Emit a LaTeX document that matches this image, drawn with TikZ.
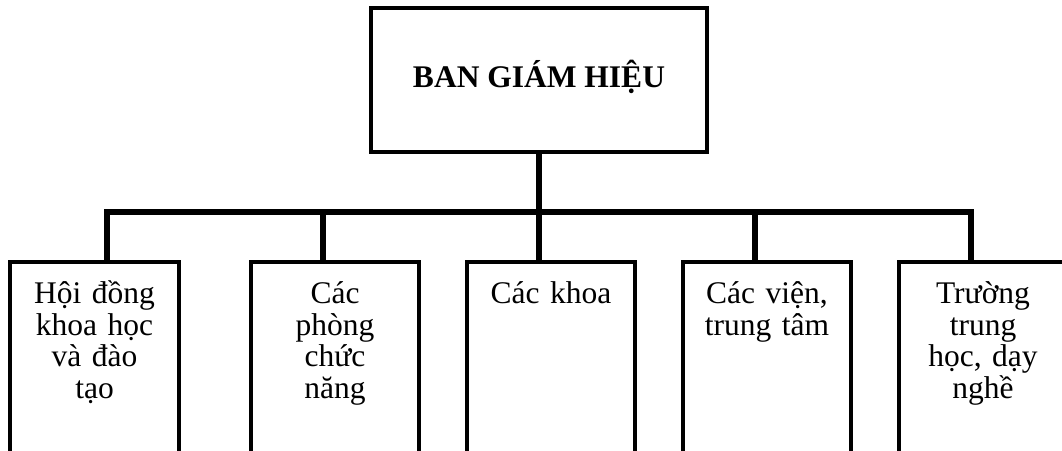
\documentclass[tikz,border=0pt]{standalone}
\usepackage{fontspec}
\setmainfont{Liberation Serif}
\begin{document}
\begin{tikzpicture}[x=1pt,y=-1pt,
  topbox/.style={draw,line width=3.5pt,inner sep=0pt,minimum width=336pt,minimum height=144pt,
    text height=21pt,text depth=7pt,font=\fontsize{31.5}{32}\selectfont\bfseries},
  unitbox/.style={draw,line width=3.5pt,inner sep=0pt,anchor=north,minimum width=168pt,minimum height=260pt},
  lbl/.style={anchor=base,inner sep=0pt,text width=160pt,align=center,
    font=\fontsize{31.5}{31.7}\selectfont},
  conn/.style={line width=5.5pt,line join=miter}]
\clip (0,0) rectangle (1062,450);
\fill[white] (0,0) rectangle (1062,450);
\node[topbox] (top) at (539,80) {BAN GIÁM HIỆU};
\node[unitbox,minimum width=169pt] (b1) at (94.5,260) {};
\node[unitbox] (b2) at (335,260) {};
\node[unitbox] (b3) at (551,260) {};
\node[unitbox] (b4) at (767,260) {};
\node[unitbox] (b5) at (983,260) {};
\node[lbl] (t1) at ([yshift=-43.5pt]b1.north) {Hội đồng\\khoa học\\và đào\\tạo};
\node[lbl] (t2) at ([yshift=-43.5pt]b2.north) {Các\\phòng\\chức\\năng};
\node[lbl] (t3) at ([yshift=-43.5pt]b3.north) {Các khoa};
\node[lbl] (t4) at ([yshift=-43.5pt]b4.north) {Các viện,\\trung tâm};
\node[lbl] (t5) at ([yshift=-43.5pt]b5.north) {Trường\\trung\\học, dạy\\nghề};
\coordinate (j1) at (107,212);
\coordinate (j2) at (323,212);
\coordinate (j3) at (539,212);
\coordinate (j4) at (755,212);
\coordinate (j5) at (971,212);
\draw[conn] (b1.north -| j1) -- (j1) -- (j5) -- (b5.north -| j5);
\draw[conn] (top.south) -- (top.south |- j3);
\draw[conn] (j2) -- (b2.north -| j2);
\draw[conn] (j3) -- (b3.north -| j3);
\draw[conn] (j4) -- (b4.north -| j4);
\end{tikzpicture}
\end{document}
